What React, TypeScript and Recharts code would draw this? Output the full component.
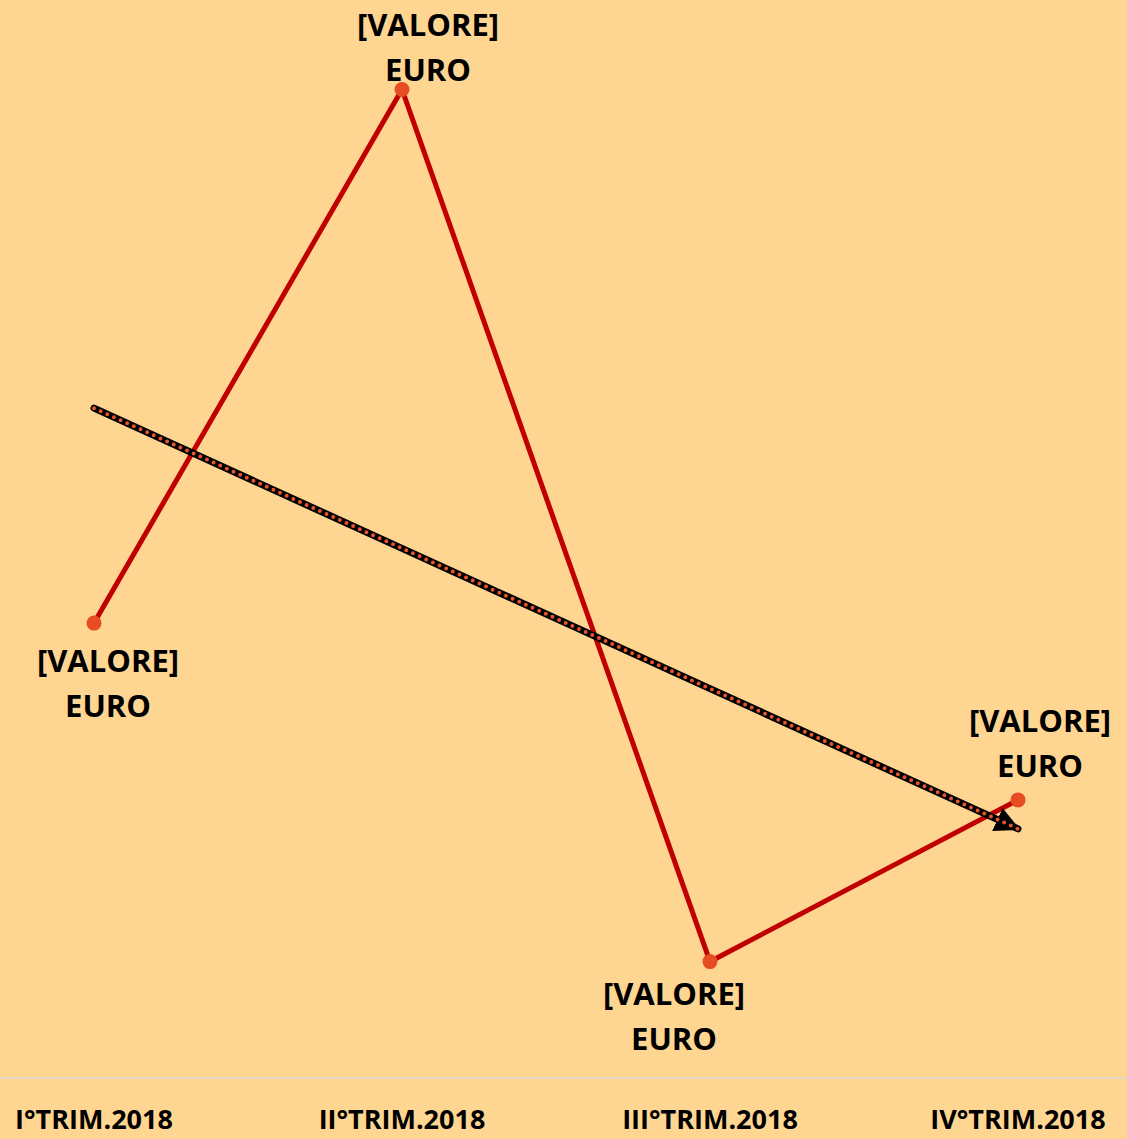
import React from 'react';
import { LineChart, Line, XAxis, YAxis, LabelList } from 'recharts';

const categories = ['I°TRIM.2018', 'II°TRIM.2018', 'III°TRIM.2018', 'IV°TRIM.2018'];
const values = [422, 917, 108, 258];
const labelLine1 = '[VALORE]';
const labelLine2 = 'EURO';

// label placement (style only)
const labelPlacement = [
  { dx: 14, dy1: 37, dy2: 82 },
  { dx: 26, dy1: -65, dy2: -20 },
  { dx: -36, dy1: 31, dy2: 76 },
  { dx: 22, dy1: -80, dy2: -35 },
];

// linear regression trend from values
function trend(vals: number[]) {
  const n = vals.length;
  const mx = (n - 1) / 2;
  const my = vals.reduce((a, b) => a + b, 0) / n;
  let num = 0;
  let den = 0;
  vals.forEach((v, i) => {
    num += (i - mx) * (v - my);
    den += (i - mx) * (i - mx);
  });
  const slope = num / den;
  const icpt = my - slope * mx;
  return vals.map((_, i) => icpt + slope * i);
}
const trendValues = trend(values);

const data = categories.map((c, i) => ({ name: c, value: values[i], trend: trendValues[i] }));

const FONT = '"Open Sans", sans-serif';
const BG = '#FFD592';

const renderLabel = (props: any) => {
  const { x, y, index } = props;
  const p = labelPlacement[index];
  const cx = x + p.dx;
  return (
    <g>
      <text x={cx} y={y + p.dy1} textAnchor="middle" dominantBaseline="central" fontFamily={FONT} fontWeight={700} fontSize={31} fill="#000">
        {labelLine1}
      </text>
      <text x={cx} y={y + p.dy2} textAnchor="middle" dominantBaseline="central" fontFamily={FONT} fontWeight={700} fontSize={31} fill="#000">
        {labelLine2}
      </text>
    </g>
  );
};

const renderTick = (props: any) => {
  const { x, payload } = props;
  return (
    <text x={x} y={1118} textAnchor="middle" dominantBaseline="central" fontFamily={FONT} fontWeight={700} fontSize={27} fill="#000">
      {payload.value}
    </text>
  );
};

export default function App() {
  return (
    <div style={{ position: 'absolute', left: 0, top: 0, width: 1127, height: 1139, background: BG }}>
      <svg width={0} height={0} style={{ position: 'absolute' }}>
        <defs>
          <marker id="trendArrow" viewBox="0 0 10 10" refX="9" refY="5" markerWidth="3.6" markerHeight="3.6" markerUnits="strokeWidth" orient="auto">
            <path d="M0,0 L10,5 L0,10 z" fill="#000" />
          </marker>
        </defs>
      </svg>
      <LineChart width={1127} height={1139} data={data} margin={{ top: 0, right: 0, bottom: 0, left: 0 }}>
        <XAxis
          dataKey="name"
          height={61}
          padding={{ left: 94, right: 109 }}
          axisLine={{ stroke: '#D9D9D9', strokeWidth: 1.5 }}
          tickLine={false}
          tick={renderTick}
          interval={0}
        />
        <YAxis hide domain={[0, 1000]} width={0} />
        <Line
          dataKey="value"
          stroke="#C00000"
          strokeWidth={5}
          dot={{ r: 7.5, fill: '#E84C22', stroke: 'none' }}
          activeDot={false}
          isAnimationActive={false}
        >
          <LabelList dataKey="value" content={renderLabel} />
        </Line>
        <Line
          dataKey="trend"
          stroke="#000"
          strokeWidth={7}
          strokeLinecap="round"
          dot={false}
          activeDot={false}
          markerEnd="url(#trendArrow)"
          isAnimationActive={false}
        />
        <Line
          dataKey="trend"
          stroke="#E8552A"
          strokeWidth={4}
          strokeLinecap="round"
          strokeDasharray="0 7.3"
          dot={false}
          activeDot={false}
          isAnimationActive={false}
        />
      </LineChart>
    </div>
  );
}
